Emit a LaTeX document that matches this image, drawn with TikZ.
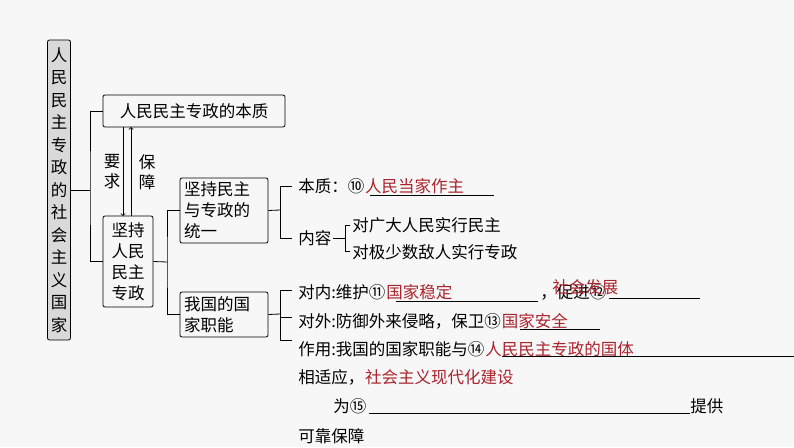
\documentclass[tikz,border=0pt]{standalone}
\usepackage{fontspec}
\setmainfont{Noto Sans CJK SC}
\usetikzlibrary{positioning}
\definecolor{ansred}{RGB}{170,35,45}
\tikzset{
  box/.style={draw,rounded corners=2pt,thick,inner sep=3pt},
  txt/.style={anchor=base west,inner sep=0pt},
  ans/.style={txt,text=ansred},
  blank/.style={thin}
}
\begin{document}
\begin{tikzpicture}[x=1pt,y=-1pt,font=\fontsize{16.5}{20}\selectfont,line width=0.8pt]
\useasboundingbox[fill=white!97!black] (0,0) rectangle (794,447);
% main boxes
\node[box,fill=gray!30,minimum width=22pt,minimum height=300pt,text width=17pt,align=center,font=\fontsize{16.5}{22.5}\selectfont] (root) at (59,190) {人\\民\\民\\主\\专\\政\\的\\社\\会\\主\\义\\国\\家};
\node[box,minimum width=182pt,minimum height=32pt] (ess) at (194,111) {人民民主专政的本质};
\node[box,minimum width=50pt,minimum height=91pt,text width=36pt,align=center,font=\fontsize{16.5}{21}\selectfont] (keep) at (128,261.5) {坚持\\人民\\民主\\专政};
\node[box,minimum width=88pt,minimum height=65pt,text width=80pt,align=left,font=\fontsize{16.5}{21}\selectfont] (unity) at (224,210.5) {坚持民主\\与专政的\\统一};
\node[box,minimum width=88pt,minimum height=45pt,text width=80pt,align=left,font=\fontsize{16.5}{21}\selectfont] (func) at (224,314.5) {我国的国\\家职能};
% trunk
\draw (root.east) -- (90,190);
\draw (ess.west) -| (90,190) |- (keep.west);
\draw[->] (123,127) -- (123,216);
\draw[->] (131,216) -- (131,127);
\node[align=center] (req) at (112,172) {要\\求};
\node[align=center] (prot) at (147,172) {保\\障};
\draw (keep.east) -- (167,262);
\draw (unity.west) -| (167,262) |- (func.west);
% unity branch
\coordinate (u1) at (280,186);
\coordinate (u2) at (280,238);
\draw (unity.east) -- (280,210);
\draw (292,186) -- (u1) -- (u2) -- (292,238);
\node[txt] (uess) at (298,192) {本质：⑩};
\node[ans,right=0pt of uess.base east,anchor=base west] (a10) {人民当家作主};
\draw[blank] (370,195) -- (494,195);
\node[txt] (ucon) at (298,244) {内容};
\draw (333,238) -- (345,238);
\draw (350,225) -- (345,225) -- (345,251) -- (350,251);
\node[txt] (c1) at (352,231) {对广大人民实行民主};
\node[txt] (c2) at (352,258) {对极少数敌人实行专政};
% function branch
\draw (func.east) -- (280,314);
\draw (292,290) -| (280,340) -- (292,340);
\draw (280,317) -- (292,317);
\node[txt] (in) at (298,298) {对内:维护⑪};
\node[ans,right=0pt of in.base east,anchor=base west] (a11) {国家稳定};
\draw[blank] (396,301) -- (538,301);
\node[txt] (in2) at (540,298) {，促进⑫};
\node[ans] (a12) at (552,293) {社会发展};
\draw[blank] (609,298) -- (700,298);
\node[txt] (out) at (298,327) {对外:防御外来侵略，保卫⑬};
\node[ans,right=0pt of out.base east,anchor=base west] (a13) {国家安全};
\draw[blank] (520,329) -- (600,329);
\node[txt] (use) at (298,355) {作用:我国的国家职能与⑭};
\node[ans,right=0pt of use.base east,anchor=base west] (a14) {人民民主专政的国体};
\draw[blank] (502,356) -- (794,356);
\node[txt] (use2) at (298,383) {相适应，};
\node[ans,right=0pt of use2.base east,anchor=base west] (a15) {社会主义现代化建设};
\node[txt] (use3) at (333,412) {为⑮};
\draw[blank] (369,413) -- (690,413);
\node[txt] (use4) at (690,412) {提供};
\node[txt] (use5) at (298,442) {可靠保障};
\end{tikzpicture}
\end{document}
